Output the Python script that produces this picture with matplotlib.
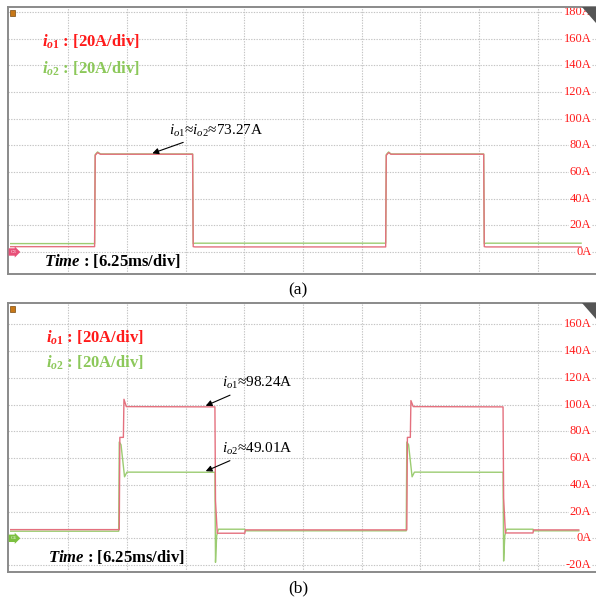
import matplotlib
matplotlib.use('Agg')
import matplotlib.pyplot as plt
import matplotlib.transforms as mtransforms
from matplotlib.patches import Polygon, Rectangle

plt.rcParams['font.family'] = ['Liberation Serif', 'DejaVu Serif']
plt.rcParams['mathtext.fontset'] = 'custom'
plt.rcParams['mathtext.rm'] = 'Liberation Serif'
plt.rcParams['mathtext.it'] = 'Liberation Serif:italic'
plt.rcParams['mathtext.bf'] = 'Liberation Serif:bold'
plt.rcParams['mathtext.bfit'] = 'Liberation Serif:bold:italic'

# time axis in divisions (6.25 ms/div), currents in A
# (a) equal sharing
t_a1 = [0.02, 1.45, 1.46, 1.50, 1.55, 3.12, 3.13, 3.16, 6.41, 6.42, 6.46, 6.50, 8.08, 8.09, 8.12, 9.74]
io1_a = [4.0, 4.0, 72.5, 74.5, 73.3, 73.3, 4.0, 3.8, 3.8, 72.5, 74.5, 73.3, 73.3, 4.0, 3.8, 3.8]
t_a2 = [0.02, 1.45, 1.46, 1.50, 1.55, 3.12, 3.13, 3.16, 6.41, 6.42, 6.46, 6.50, 8.08, 8.09, 8.12, 9.74]
io2_a = [6.3, 6.3, 73.0, 75.0, 73.5, 73.5, 6.3, 6.6, 6.6, 73.0, 75.0, 73.5, 73.5, 6.3, 6.6, 6.6]

# (b) unequal sharing
t_b1 = [0.02, 1.87, 1.88, 1.94, 1.95, 1.99, 3.50, 3.51, 3.54, 4.01, 4.02, 6.77, 6.78, 6.83, 6.84, 6.88, 8.41, 8.42, 8.45, 8.92, 8.93, 9.70]
io1_b = [6.5, 6.5, 75.5, 75.5, 104.0, 98.5, 98.3, 28.0, 3.8, 3.8, 6.3, 6.3, 75.5, 75.5, 103.0, 98.5, 98.3, 30.0, 4.0, 4.0, 6.3, 6.3]
t_b2 = [0.02, 1.86, 1.87, 1.90, 1.96, 2.00, 3.50, 3.51, 3.53, 3.56, 4.01, 4.02, 6.76, 6.77, 6.80, 6.86, 6.90, 8.41, 8.42, 8.44, 8.47, 8.92, 8.93, 9.70]
io2_b = [5.3, 5.3, 72.0, 70.0, 46.0, 49.5, 49.4, -18.0, 2.0, 6.8, 6.8, 5.6, 5.6, 72.0, 70.0, 46.0, 49.5, 49.4, -17.0, 2.0, 6.8, 6.8, 5.6, 5.6]

ticks_a = [0, 20, 40, 60, 80, 100, 120, 140, 160, 180]
ticks_b = [-20, 0, 20, 40, 60, 80, 100, 120, 140, 160]
vgrid = [1, 2, 3, 4, 5, 6, 7, 8, 9]

RED_TXT = '#ff1a1a'
GRN_TXT = '#8cc85a'
RED_LN = '#e4707e'
GRN_LN = '#9ccc72'

fig = plt.figure(figsize=(5.96, 6.03), dpi=100)
ax_a = fig.add_axes([8/596, 1-274/603, 588/596, 267/603])
ax_b = fig.add_axes([8/596, 1-572/603, 588/596, 269/603])


def scope(ax, ylim, ticks, tag, tagcol):
    ax.set_xlim(-0.026, 9.994)
    ax.set_ylim(*ylim)
    ax.set_xticks([])
    ax.set_yticks([])
    for y in ticks:
        ax.axhline(y, color='#c4c4c4', lw=0.8, ls=(0, (1.2, 1.2)), zorder=1)
    for x in vgrid:
        ax.axvline(x, color='#c4c4c4', lw=0.8, ls=(0, (1.2, 1.2)), zorder=1)
    for s in ['top', 'left', 'bottom']:
        ax.spines[s].set_color('#8a8a8a')
        ax.spines[s].set_linewidth(1.4)
    ax.spines['right'].set_visible(False)
    for y in ticks:
        ax.text(0.992, y, '%dA' % y, transform=ax.get_yaxis_transform(),
                ha='right', va='center', color=RED_TXT, fontsize=9, zorder=2.5,
                bbox=dict(fc='white', ec='none', pad=0.3))
    ax.add_patch(Polygon([(0.976, 1.0), (1.0, 1.0), (1.0, 0.94)], closed=True,
                         transform=ax.transAxes, fc='#555555', ec='none', zorder=4))
    ax.add_patch(Rectangle((0.003, 0.965), 0.009, 0.025, transform=ax.transAxes,
                           fc='#c87818', ec='#7a4a10', lw=0.5, zorder=4))
    trans = mtransforms.blended_transform_factory(ax.transAxes, ax.transData)
    ax.text(0.004, 0, tag, transform=trans, fontsize=3.5, color='white',
            va='center', ha='left', zorder=5,
            bbox=dict(boxstyle='rarrow,pad=0.35', fc=tagcol, ec='none'))


scope(ax_a, (-16.5, 183.7), ticks_a, 'C3', '#e85078')
scope(ax_b, (-25.2, 176.0), ticks_b, 'C4', '#7cc040')

ax_a.plot(t_a2, io2_a, color=GRN_LN, lw=1.0, zorder=3)
ax_a.plot(t_a1, io1_a, color=RED_LN, lw=1.0, zorder=3)
ax_b.plot(t_b2, io2_b, color=GRN_LN, lw=1.0, zorder=3)
ax_b.plot(t_b1, io1_b, color=RED_LN, lw=1.0, zorder=3)

# channel scales
fs = 12
ax_a.text(0.058, 0.868, r'$\mathbfit{i}_{\mathbfit{o}\mathbf{1}}$ : [20A/div]', transform=ax_a.transAxes,
          color=RED_TXT, fontsize=fs, fontweight='bold', va='center')
ax_a.text(0.058, 0.768, r'$\mathbfit{i}_{\mathbfit{o}\mathbf{2}}$ : [20A/div]', transform=ax_a.transAxes,
          color=GRN_TXT, fontsize=fs, fontweight='bold', va='center')
ax_a.text(0.062, 0.05, r'$\mathbfit{Time}$ : [6.25ms/div]', transform=ax_a.transAxes,
          color='black', fontsize=fs, fontweight='bold', va='center')

ax_b.text(0.065, 0.87, r'$\mathbfit{i}_{\mathbfit{o}\mathbf{1}}$ : [20A/div]', transform=ax_b.transAxes,
          color=RED_TXT, fontsize=fs, fontweight='bold', va='center')
ax_b.text(0.065, 0.777, r'$\mathbfit{i}_{\mathbfit{o}\mathbf{2}}$ : [20A/div]', transform=ax_b.transAxes,
          color=GRN_TXT, fontsize=fs, fontweight='bold', va='center')
ax_b.text(0.068, 0.055, r'$\mathbfit{Time}$ : [6.25ms/div]', transform=ax_b.transAxes,
          color='black', fontsize=fs, fontweight='bold', va='center')

arw = dict(arrowstyle='-|>', color='black', lw=0.8, mutation_scale=9)
ax_a.annotate(r'$i_{o\mathrm{1}}$≈$i_{o\mathrm{2}}$≈73.27A', xy=(2.39, 73.3), xytext=(2.72, 91),
              fontsize=11, va='center', ha='left', arrowprops=arw)
ax_b.annotate(r'$i_{o\mathrm{1}}$≈98.24A', xy=(3.30, 98.3), xytext=(3.62, 116),
              fontsize=11, va='center', ha='left', arrowprops=arw)
ax_b.annotate(r'$i_{o\mathrm{2}}$≈49.01A', xy=(3.30, 49.4), xytext=(3.62, 67),
              fontsize=11, va='center', ha='left', arrowprops=arw)

fig.text(0.5, 1-290/603, '(a)', ha='center', va='center', fontsize=12.5)
fig.text(0.5, 1-588/603, '(b)', ha='center', va='center', fontsize=12.5)

fig.savefig('out.png', dpi=100)
